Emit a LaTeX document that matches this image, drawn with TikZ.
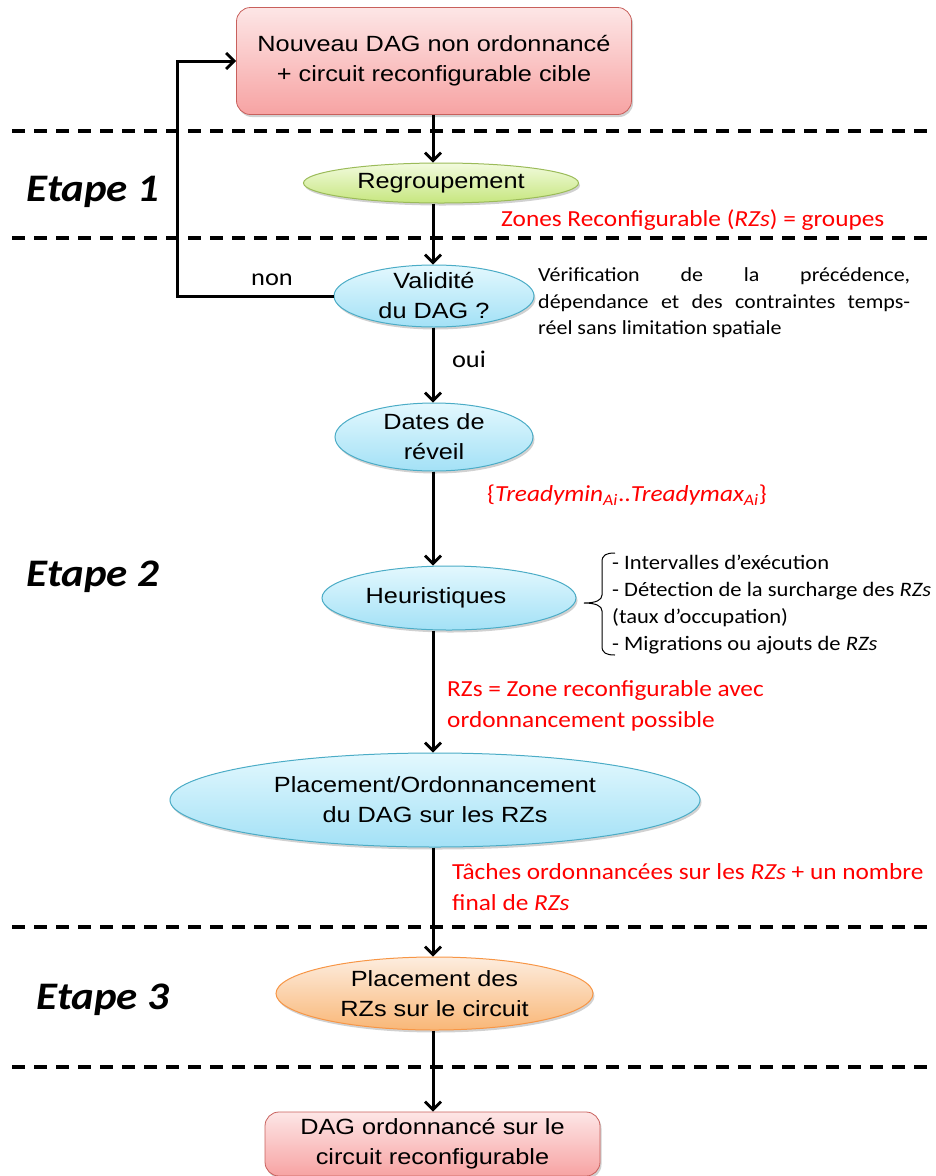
\documentclass[tikz,border=0pt]{standalone}
\usepackage{fontspec}
\setmainfont[FakeStretch=1.15]{Liberation Sans}
\newfontfamily\calib[FakeStretch=1.1]{Carlito}
\usetikzlibrary{shapes.geometric,arrows.meta,shadows,calc}

\definecolor{boxtop}{HTML}{FDE6E6}
\definecolor{boxbot}{HTML}{F7A3A3}
\definecolor{boxedge}{HTML}{C8605C}
\definecolor{bluetop}{HTML}{E3F8FE}
\definecolor{bluebot}{HTML}{A3E1F6}
\definecolor{blueedge}{HTML}{4BACC6}
\definecolor{greentop}{HTML}{F2FBDE}
\definecolor{greenbot}{HTML}{C6E67E}
\definecolor{greenedge}{HTML}{9BBB59}
\definecolor{orangetop}{HTML}{FDEDDF}
\definecolor{orangebot}{HTML}{F9B777}
\definecolor{orangeedge}{HTML}{F79646}
\definecolor{note}{HTML}{FF0000}

\begin{document}
\begin{tikzpicture}[x=1pt,y=-1pt,
  every node/.style={inner sep=0pt},
  softshadow/.style={drop shadow={shadow xshift=1.5pt,shadow yshift=-2.5pt,fill=black,opacity=0.18}},
  flow/.style={line width=3pt,-{Straight Barb[length=8pt,width=16pt,line width=2.8pt]}},
  stageline/.style={line width=3.2pt,dash pattern=on 13pt off 9pt},
  rbox/.style={rounded corners=14pt,draw=boxedge,line width=0.8pt,top color=boxtop,bottom color=boxbot,softshadow,align=center,font=\fontsize{22}{30}\selectfont},
  oval/.style={ellipse,line width=1pt,softshadow},
  blueoval/.style={oval,draw=blueedge,top color=bluetop,bottom color=bluebot},
  greenoval/.style={oval,draw=greenedge,top color=greentop,bottom color=greenbot},
  orangeoval/.style={oval,draw=orangeedge,top color=orangetop,bottom color=orangebot},
  ovaltext/.style={align=center,font=\fontsize{22}{30}\selectfont},
  rednote/.style={anchor=west,align=left,text=note,font=\calib\fontsize{23}{31}\selectfont},
  blacknote/.style={align=left,font=\calib\fontsize{20}{26.5}\selectfont},
  steplabel/.style={font=\calib\bfseries\itshape\fontsize{39}{39}\selectfont},
  answer/.style={font=\calib\fontsize{24}{24}\selectfont}
]
\useasboundingbox (0,0) rectangle (936,1176);

% stage separators
\coordinate (sepL) at (12,0);
\coordinate (sepR) at (936,0);
\foreach \yy in {131,238,927,1067}
  \draw[stageline] (sepL |- 0,\yy) -- (sepR |- 0,\yy);

% stage labels
\node[steplabel] (e1) at (93,192) {Etape 1};
\node[steplabel] (e2) at (93,577) {Etape 2};
\node[steplabel] (e3) at (103,1000) {Etape 3};

% main axis of the flow
\coordinate (axis) at (433,0);
\coordinate (loopx) at (177,0);

% flow nodes
\node[rbox,minimum width=395pt,minimum height=107pt] (dag) at (434,61)
  {Nouveau DAG non ordonnancé\\+ circuit reconfigurable cible};

\node[greenoval,minimum width=275pt,minimum height=40pt] (reg) at (441,183) {};
\node[ovaltext] (regt) at (reg) {Regroupement};

\node[blueoval,minimum width=200pt,minimum height=62pt] (val) at (434,296) {};
\node[ovaltext] (valt) at (val) {Validité\\du DAG ?};

\node[blueoval,minimum width=198pt,minimum height=68pt] (rev) at (434,437) {};
\node[ovaltext] (revt) at (rev) {Dates de\\réveil};

\node[blueoval,minimum width=254pt,minimum height=64pt] (heu) at (449,598) {};
\node[ovaltext] (heut) at (436,598) {Heuristiques};

\node[blueoval,minimum width=530pt,minimum height=94pt] (pla) at (435,800) {};
\node[ovaltext] (plat) at (pla) {Placement/Ordonnancement\\du DAG sur les RZs};

\node[orangeoval,minimum width=317pt,minimum height=73pt] (prz) at (434.5,993.5) {};
\node[ovaltext] (przt) at (prz) {Placement des\\RZs sur le circuit};

\node[rbox,minimum width=335pt,minimum height=64pt] (fin) at (432.5,1144)
  {DAG ordonnancé sur le\\circuit reconfigurable};

% connectors
\draw[flow] (axis |- dag.south) -- (axis |- reg.north);
\draw[flow] (axis |- reg.south) -- (axis |- val.north);
\draw[flow] (axis |- val.south) -- (axis |- rev.north);
\draw[flow] (axis |- rev.south) -- (axis |- heu.north);
\draw[flow] (axis |- heu.south) -- (axis |- pla.north);
\draw[flow] (axis |- pla.south) -- (axis |- prz.north);
\draw[flow] (axis |- prz.south) -- (axis |- fin.north);
\draw[flow] (val.west) -- (loopx |- val.west) |- (dag.west);

\node[answer] (non) at (272,280) {non};
\node[answer] (oui) at (469,359) {oui};

% annotations
\node[rednote] (zones) at (501,220) {Zones Reconfigurable (\textit{RZs}) = groupes};
\node[blacknote,anchor=west] (verif) at (538,303)
  {\makebox[372pt][s]{Vérification de la précédence,}\\
   \makebox[372pt][s]{dépendance et des contraintes temps-}\\
   réel sans limitation spatiale};
\node[rednote] (tready) at (487,495)
  {\{\textit{Treadymin\textsubscript{Ai}}..\textit{Treadymax\textsubscript{Ai}}\}};

% curly bracket grouping the heuristic steps
\draw[line width=1pt]
  (615,553) .. controls (606,553) and (602,555) .. (602,562) -- (602,595)
  .. controls (602,600) and (596,603) .. (584,603)
  .. controls (596,603) and (602,606) .. (602,611) -- (602,646)
  .. controls (602,653) and (606,655) .. (615,655);
\node[blacknote,anchor=west,font=\calib\fontsize{20.5}{27}\selectfont] (heulist) at (612,605)
  {- Intervalles d’exécution\\
   - Détection de la surcharge des \textit{RZs}\\
   (taux d’occupation)\\
   - Migrations ou ajouts de \textit{RZs}};

\node[rednote] (rzdef) at (447,705.5)
  {RZs = Zone reconfigurable avec\\ordonnancement possible};
\node[rednote] (taches) at (452,887.5)
  {Tâches ordonnancées sur les \textit{RZs} + un nombre\\final de \textit{RZs}};
\end{tikzpicture}
\end{document}
